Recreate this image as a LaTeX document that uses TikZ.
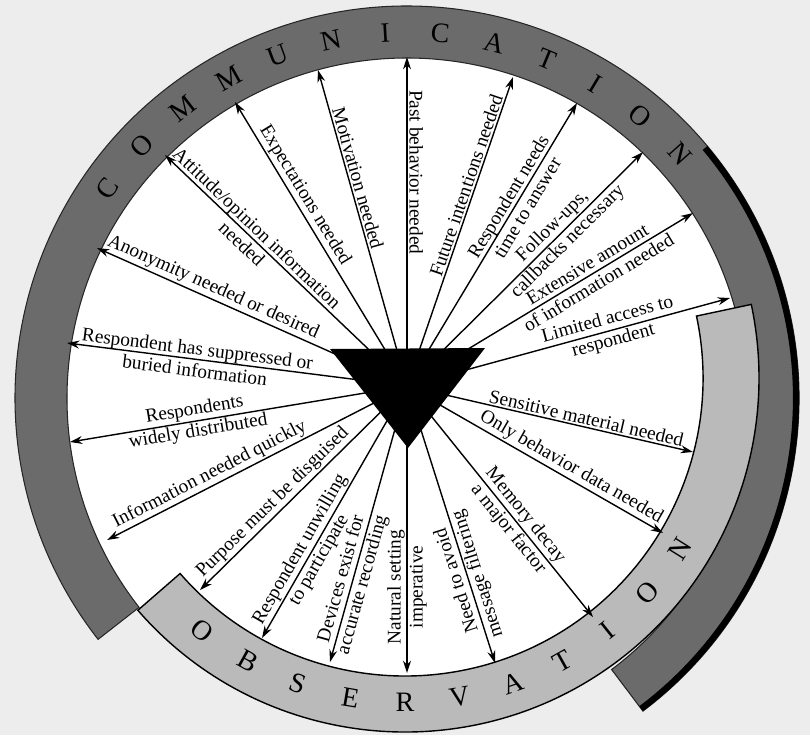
\documentclass[tikz,border=0pt]{standalone}
\usepackage{fontspec}
\setmainfont{Liberation Serif}
\usetikzlibrary{arrows.meta,positioning,calc}

\tikzset{
  spoke/.style={-{Stealth[length=7pt,width=4.5pt]}, line width=0.8pt},
  spokein/.style={{Stealth[length=7pt,width=4.5pt]}-, line width=0.8pt},
  note/.style={font=\fontsize{11}{12.5}\selectfont, align=center, sloped, allow upside down, inner sep=1pt},
  ringletter/.style={font=\fontsize{16}{16}\selectfont, inner sep=0pt},
}

\begin{document}
\begin{tikzpicture}[x=0.02cm, y=-0.02cm]
    \useasboundingbox (0,0) rectangle (810,735);
    % paper
    \fill[black!7] (0,0) rectangle (810,735);
    \coordinate (dc) at (407,398);
    \coordinate (lc) at (405,378);
    \coordinate (hub) at (407,386);
    \begin{scope}
        \clip (lc) circle[radius=353];
        \fill[white] (dc) circle[radius=341];
    \end{scope}

    % Communication ring
    \fill[black!58, draw=black!85, line width=0.6pt] ($(dc)+(53:392)$) arc[start angle=53, end angle=-218, radius=392]
        -- ($(dc)+(-218:340)$) arc[start angle=-218, end angle=53, radius=340] -- cycle;
    \draw[black, line width=3.5pt] ($(dc)+(-40:389)$) arc[start angle=-40, end angle=53, radius=389];

    % Observation ring
    \fill[black!27, draw=black, line width=0.8pt] ($(lc)+(-221:354)$) arc[start angle=-221, end angle=-372, radius=354]
        -- ($(lc)+(-372:298)$) arc[start angle=-372, end angle=-221, radius=298] -- cycle;

    % ring letters: COMMUNICATION
    \node[ringletter, rotate=55]    (cm1)  at ($(dc)+(-145:366)$)   {C};
    \node[ringletter, rotate=46.4]  (cm2)  at ($(dc)+(-136.4:366)$) {O};
    \node[ringletter, rotate=37.8]  (cm3)  at ($(dc)+(-127.8:366)$) {M};
    \node[ringletter, rotate=29.2]  (cm4)  at ($(dc)+(-119.2:366)$) {M};
    \node[ringletter, rotate=20.6]  (cm5)  at ($(dc)+(-110.6:366)$) {U};
    \node[ringletter, rotate=12]    (cm6)  at ($(dc)+(-102:366)$)   {N};
    \node[ringletter, rotate=3.4]   (cm7)  at ($(dc)+(-93.4:366)$)  {I};
    \node[ringletter, rotate=-5.2]  (cm8)  at ($(dc)+(-84.8:366)$)  {C};
    \node[ringletter, rotate=-13.8] (cm9)  at ($(dc)+(-76.2:366)$)  {A};
    \node[ringletter, rotate=-22.4] (cm10) at ($(dc)+(-67.6:366)$)  {T};
    \node[ringletter, rotate=-31]   (cm11) at ($(dc)+(-59:366)$)    {I};
    \node[ringletter, rotate=-39.6] (cm12) at ($(dc)+(-50.4:366)$)  {O};
    \node[ringletter, rotate=-48.2] (cm13) at ($(dc)+(-41.8:366)$)  {N};

    % ring letters: OBSERVATION
    \node[ringletter, rotate=-38.7] (ob1)  at ($(lc)+(-231.3:324)$) {O};
    \node[ringletter, rotate=-29]   (ob2)  at ($(lc)+(-241:324)$)   {B};
    \node[ringletter, rotate=-19.3] (ob3)  at ($(lc)+(-250.7:324)$) {S};
    \node[ringletter, rotate=-9.7]  (ob4)  at ($(lc)+(-260.3:324)$) {E};
    \node[ringletter, rotate=0]     (ob5)  at ($(lc)+(-270:324)$)   {R};
    \node[ringletter, rotate=9.7]   (ob6)  at ($(lc)+(-279.7:324)$) {V};
    \node[ringletter, rotate=19.4]  (ob7)  at ($(lc)+(-289.4:324)$) {A};
    \node[ringletter, rotate=29.1]  (ob8)  at ($(lc)+(-299.1:324)$) {T};
    \node[ringletter, rotate=38.7]  (ob9)  at ($(lc)+(-308.7:324)$) {I};
    \node[ringletter, rotate=48.4]  (ob10) at ($(lc)+(-318.4:324)$) {O};
    \node[ringletter, rotate=58.1]  (ob11) at ($(lc)+(-328.1:324)$) {N};

    % Spoke tips
    \coordinate (tPast)      at (407,57);
    \coordinate (tFuture)    at (513,77);
    \coordinate (tTime)      at (577,103);
    \coordinate (tFollow)    at (643,152);
    \coordinate (tAmount)    at (693,213);
    \coordinate (tAccess)    at (730,298);
    \coordinate (tSensitive) at (693,452);
    \coordinate (tBehavior)  at (663,533);
    \coordinate (tMemory)    at (593,617);
    \coordinate (tFilter)    at (495,663);
    \coordinate (tNatural)   at (407,673);
    \coordinate (tDevices)   at (330,662);
    \coordinate (tUnwilling) at (262,638);
    \coordinate (tDisguise)  at (200,590);
    \coordinate (tQuick)     at (107,540);
    \coordinate (tSpread)    at (70,442);
    \coordinate (tBuried)    at (67,343);
    \coordinate (tAnon)      at (97,248);
    \coordinate (tAttitude)  at (165,155);
    \coordinate (tExpect)    at (235,102);
    \coordinate (tMotive)    at (318,70);

    % Right half, read outward
    \draw[spoke] (hub) -- (tFuture) node[note, pos=.64, above] (lFuture) {Future intentions needed};
    \draw[spoke] (hub) -- (tTime) node[note, pos=.65] (lTime) {Respondent needs\\time to answer};
    \draw[spoke] (hub) -- (tFollow) node[note, pos=.65] (lFollow) {Follow-ups,\\callbacks necessary};
    \draw[spoke] (hub) -- (tAmount) node[note, pos=.65] (lAmount) {Extensive amount\\of information needed};
    \draw[spoke] (hub) -- (tAccess) node[note, pos=.63] (lAccess) {Limited access to\\respondent};
    \draw[spoke] (hub) -- (tSensitive) node[note, pos=.62, above] (lSensitive) {Sensitive material needed};
    \draw[spoke] (hub) -- (tBehavior) node[note, pos=.62, above] (lBehavior) {Only behavior data needed};
    \draw[spoke] (hub) -- (tMemory) node[note, pos=.59] (lMemory) {Memory decay\\a major factor};

    % Left half, read inward
    \draw[spokein] (tFilter) -- (hub) node[note, pos=.31] (lFilter) {Need to avoid\\message filtering};
    \draw[spokein] (tNatural) -- (hub) node[note, pos=.30] (lNatural) {Natural setting\\imperative};
    \draw[spokein] (tDevices) -- (hub) node[note, pos=.29] (lDevices) {Devices exist for\\accurate recording};
    \draw[spokein] (tUnwilling) -- (hub) node[note, pos=.33] (lUnwilling) {Respondent unwilling\\to participate};
    \draw[spokein] (tDisguise) -- (hub) node[note, pos=.39, above] (lDisguise) {Purpose must be disguised};
    \draw[spokein] (tQuick) -- (hub) node[note, pos=.36, above] (lQuick) {Information needed quickly};
    \draw[spokein] (tSpread) -- (hub) node[note, pos=.375] (lSpread) {Respondents\\widely distributed};
    \draw[spokein] (tBuried) -- (hub) node[note, pos=.38] (lBuried) {Respondent has suppressed or\\buried information};
    \draw[spokein] (tAnon) -- (hub) node[note, pos=.36, above] (lAnon) {Anonymity needed or desired};
    \draw[spokein] (tAttitude) -- (hub) node[note, pos=.35] (lAttitude) {Attitude/opinion information\\needed};
    \draw[spokein] (tExpect) -- (hub) node[note, pos=.35, above] (lExpect) {Expectations needed};
    \draw[spokein] (tMotive) -- (hub) node[note, pos=.35, above] (lMotive) {Motivation needed};
    \draw[spokein] (tPast) -- (hub) node[note, pos=.35, above] (lPast) {Past behavior needed};

    % center triangle
    \fill[black] (330,349) -- (485,348) -- (408,448) -- cycle;
\end{tikzpicture}
\end{document}
